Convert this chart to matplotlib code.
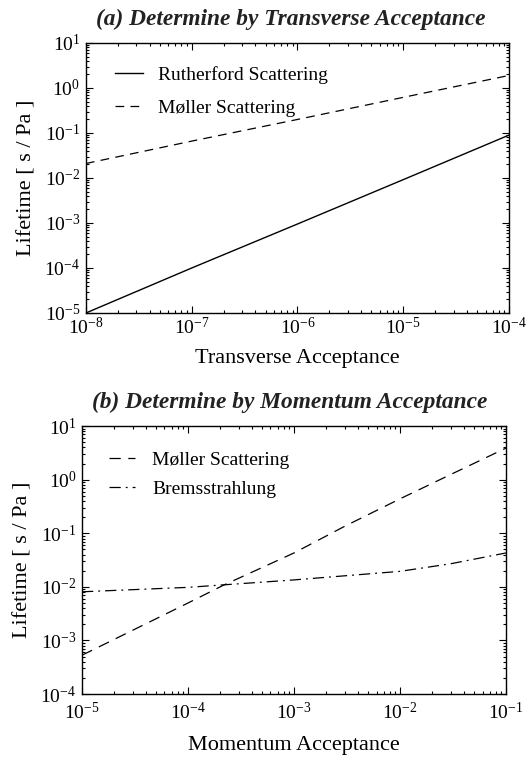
import matplotlib
matplotlib.use("Agg")
import matplotlib.pyplot as plt
import numpy as np
from matplotlib.ticker import LogLocator

plt.rcParams['font.family'] = ['Liberation Serif', 'DejaVu Serif']
plt.rcParams['mathtext.fontset'] = 'custom'
plt.rcParams['mathtext.rm'] = 'Liberation Serif'
plt.rcParams['mathtext.it'] = 'Liberation Serif:italic'

# Panel (a) data
a_x_ruth = [1e-8, 1e-7, 1e-6, 1e-5, 1e-4]
a_y_ruth = [1.0e-5, 1.0e-4, 9.5e-4, 9.2e-3, 0.09]
a_x_moll = [1e-8, 1e-7, 1e-6, 1e-5, 1e-4]
a_y_moll = [0.021, 0.066, 0.20, 0.62, 1.9]

# Panel (b) data
b_x_moll = [1e-5, 1e-4, 2.15e-4, 1e-3, 3e-3, 1e-2, 3e-2, 1e-1]
b_y_moll = [5.3e-4, 5.0e-3, 1.07e-2, 4.3e-2, 0.135, 0.44, 1.25, 3.9]
b_x_brem = [1e-5, 1e-4, 1e-3, 1e-2, 3e-2, 1e-1]
b_y_brem = [8.1e-3, 9.8e-3, 1.35e-2, 1.95e-2, 2.7e-2, 4.3e-2]

titles = ["(a) Determine by Transverse Acceptance",
          "(b) Determine by Momentum Acceptance"]
xlabels = ["Transverse Acceptance", "Momentum Acceptance"]
ylabel = "Lifetime [ s / Pa ]"

fig = plt.figure(figsize=(5.27, 7.61), dpi=100)
ax1 = fig.add_axes([0.163, 0.5887, 0.803, 0.3548])
ax2 = fig.add_axes([0.1556, 0.088, 0.8046, 0.352])

def style(ax, xlim, ylim, title, title_x, xlabel, xpad, xlabpad):
    ax.set_xscale('log')
    ax.set_yscale('log')
    ax.set_xlim(*xlim)
    ax.set_ylim(*ylim)
    ax.xaxis.set_major_locator(LogLocator(base=10, numticks=20))
    ax.yaxis.set_major_locator(LogLocator(base=10, numticks=20))
    ax.xaxis.set_minor_locator(LogLocator(base=10, subs=np.arange(2, 10), numticks=20))
    ax.yaxis.set_minor_locator(LogLocator(base=10, subs=np.arange(2, 10), numticks=20))
    ax.tick_params(which='both', direction='in', top=True, right=True, labelsize=14, width=0.8)
    ax.tick_params(which='major', length=5)
    ax.tick_params(which='minor', length=2.5)
    ax.tick_params(axis='x', which='major', pad=xpad)
    ax.tick_params(axis='y', which='major', pad=4)
    for s in ax.spines.values():
        s.set_linewidth(1.0)
    ax.set_title(title, fontsize=16.8, fontweight='bold', fontstyle='italic', pad=13,
                 color='#222222', x=title_x)
    ax.set_xlabel(xlabel, fontsize=16, labelpad=xlabpad)
    ax.set_ylabel(ylabel, fontsize=16, labelpad=6)

ax1.plot(a_x_ruth, a_y_ruth, color='black', lw=1.0, label='Rutherford Scattering')
ax1.plot(a_x_moll, a_y_moll, color='black', lw=0.9, linestyle=(0, (7, 5)), label='Møller Scattering')
style(ax1, (1e-8, 1e-4), (1e-5, 1e1), titles[0], 0.483, xlabels[0], 3, 8)
ax1.legend(loc='upper left', frameon=False, fontsize=14, handlelength=1.45, handletextpad=0.78,
           labelspacing=0.81, borderpad=0, borderaxespad=0, bbox_to_anchor=(0.068, 0.915))

ax2.plot(b_x_moll, b_y_moll, color='black', lw=0.9, linestyle=(0, (9, 6)), label='Møller Scattering')
ax2.plot(b_x_brem, b_y_brem, color='black', lw=0.9, linestyle=(0, (9, 4, 1.5, 4)), label='Bremsstrahlung')
style(ax2, (1e-5, 1e-1), (1e-4, 1e1), titles[1], 0.49, xlabels[1], 6, 9)
ax2.legend(loc='upper left', frameon=False, fontsize=14, handlelength=1.35, handletextpad=0.88,
           labelspacing=0.6, borderpad=0, borderaxespad=0, bbox_to_anchor=(0.064, 0.907))

fig.savefig('out.png', dpi=100)
